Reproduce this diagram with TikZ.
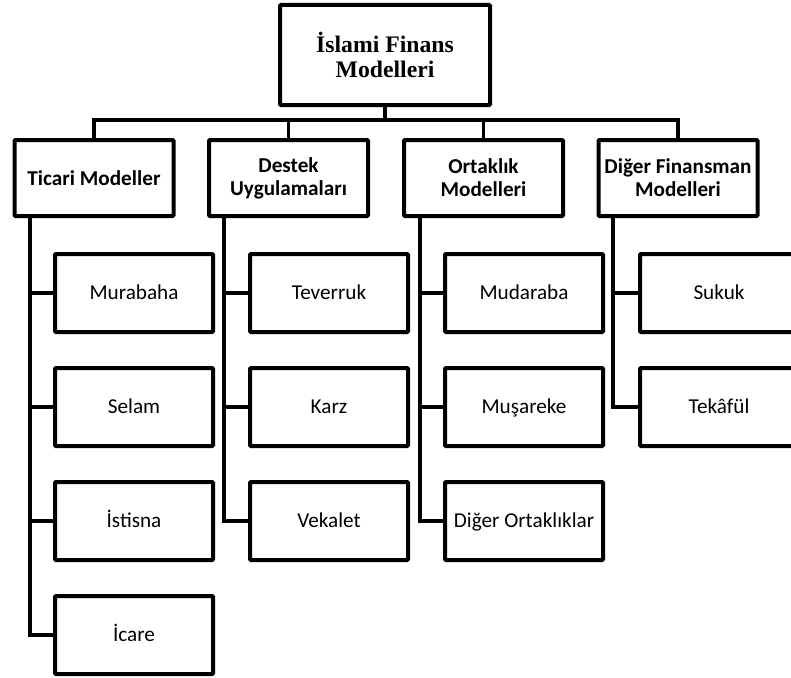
\documentclass[tikz,border=0pt]{standalone}
\usepackage{fontspec}
\setmainfont{Carlito}
\newfontfamily\rootfont{Liberation Serif}
\begin{document}
\begin{tikzpicture}[x=1pt,y=-1pt,
  box/.style={draw,line width=4pt,rounded corners=1pt,inner sep=0pt,align=center,fill=white},
  rootbox/.style={box,font=\rootfont\bfseries\fontsize{23.7}{24.5}\selectfont,minimum width=210pt,minimum height=100pt},
  lvlone/.style={box,font=\bfseries\fontsize{21.2}{23}\selectfont,minimum width=159pt,minimum height=76pt},
  lvltwo/.style={box,font=\fontsize{21.2}{23}\selectfont,minimum width=158pt,minimum height=78pt,text height=13.6pt,text depth=0pt},
  link/.style={line width=3.8pt}]
\useasboundingbox (0,0) rectangle (791,677);
\clip (0,0) rectangle (791,677);
% root
\node[rootbox] (root) at (385,55) {İslami Finans\\Modelleri};
% level one
\node[lvlone] (t1) at (94,178) {Ticari Modeller};
\node[lvlone] (t2) at (288.5,178) {Destek\\Uygulamaları};
\node[lvlone] (t3) at (483.5,178) {Ortaklık\\Modelleri};
\node[lvlone] (t4) at (678,178) {Diğer Finansman\\Modelleri};
% children
\node[lvltwo] (c11) at (134,293) {Murabaha};
\node[lvltwo] (c12) at (134,407) {Selam};
\node[lvltwo] (c13) at (134,521) {İstisna};
\node[lvltwo] (c14) at (134,635) {İcare};
\node[lvltwo] (c21) at (329,293) {Teverruk};
\node[lvltwo] (c22) at (329,407) {Karz};
\node[lvltwo] (c23) at (329,521) {Vekalet};
\node[lvltwo] (c31) at (524,293) {Mudaraba};
\node[lvltwo] (c32) at (524,407) {Muşareke};
\node[lvltwo] (c33) at (524,521) {Diğer Ortaklıklar};
\node[lvltwo] (c41) at (719,293) {Sukuk};
\node[lvltwo] (c42) at (719,407) {Tekâfül};
% bus
\draw[link] (t1.north) -- ++(0,-18) coordinate (busL) -| (t4.north);
\draw[link] (root.south) -- (root.south |- busL);
\draw[link] (t2.north) -- (t2.north |- busL);
\draw[link] (t3.north) -- (t3.north |- busL);
% spines
\draw[link] ([xshift=-64pt]t1.south) |- (c14.west);
\draw[link] (c11.west) -- ++(-25,0);
\draw[link] (c12.west) -- ++(-25,0);
\draw[link] (c13.west) -- ++(-25,0);
\draw[link] ([xshift=-64.5pt]t2.south) |- (c23.west);
\draw[link] (c21.west) -- ++(-25,0);
\draw[link] (c22.west) -- ++(-25,0);
\draw[link] ([xshift=-63.5pt]t3.south) |- (c33.west);
\draw[link] (c31.west) -- ++(-25,0);
\draw[link] (c32.west) -- ++(-25,0);
\draw[link] ([xshift=-65pt]t4.south) |- (c42.west);
\draw[link] (c41.west) -- ++(-25,0);
\end{tikzpicture}
\end{document}
